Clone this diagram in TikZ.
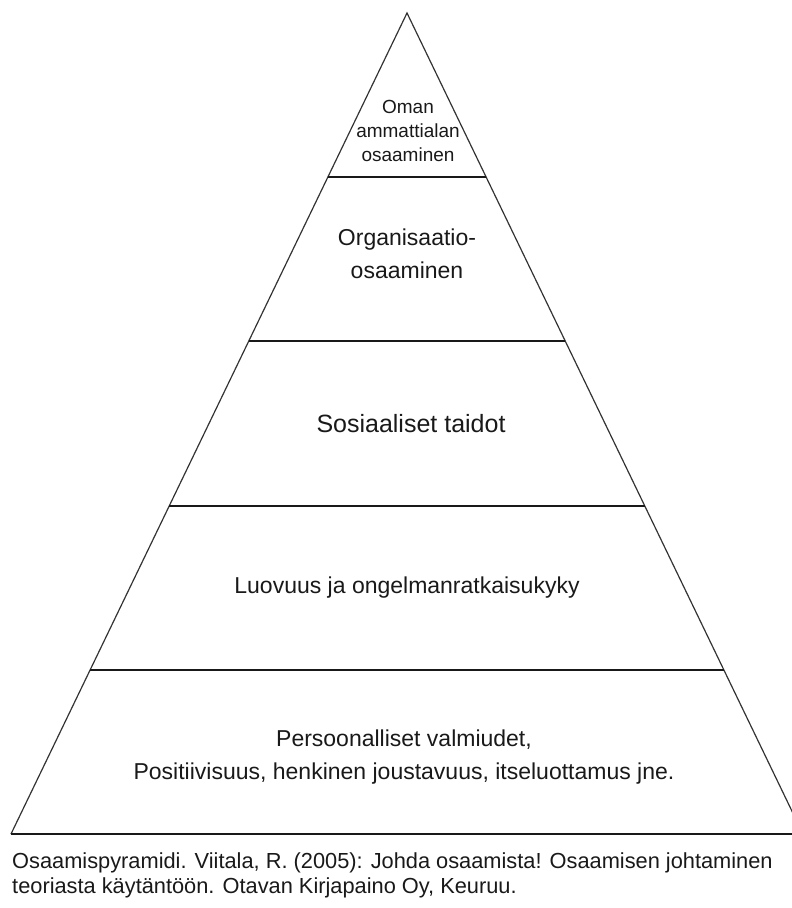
\documentclass[tikz,border=0pt]{standalone}
\usepackage{fontspec}
\setmainfont{Liberation Sans}
\usetikzlibrary{calc}

\begin{document}
\begin{tikzpicture}[
    x=1pt, y=1pt,
    side/.style={draw=black!80, line width=1.2pt},
    band/.style={draw=black!90, line width=2pt},
    lbl/.style={align=center, inner sep=0pt, text=black!90, font=\fontsize{23}{33}\selectfont},
    small/.style={align=center, inner sep=0pt, text=black!90, font=\fontsize{19}{24}\selectfont},
    caption/.style={align=left, inner sep=0pt, text=black!90, font=\fontsize{21.8}{25}\selectfont}
]
    \useasboundingbox (0,0) rectangle (792,-908);
    \clip (0,0) rectangle (792,-908);

    % Pyramid outline
    \coordinate (apex) at (407,-13);
    \coordinate (bl) at (11,-834);
    \coordinate (br) at (803,-834);
    \draw[side] (bl) -- (apex) -- (br);
    \draw[band] (bl) -- (br);

    % Levels
    \foreach \t in {0.2,0.4,0.6,0.8}
        \draw[band] ($(apex)!\t!(bl)$) -- ($(apex)!\t!(br)$);

    % Labels, top to bottom
    \node[small] (own) at (408,-131) {Oman\\ammattialan\\osaaminen};
    \node[lbl] (org) at (407,-254) {Organisaatio-\\osaaminen};
    \node[lbl, font=\fontsize{25}{33}\selectfont] (soc) at (411,-424) {Sosiaaliset taidot};
    \node[lbl] (cre) at (407,-588) {Luovuus ja ongelmanratkaisukyky};
    \node[lbl] (pers) at (404,-757) {Persoonalliset valmiudet,\\Positiivisuus, henkinen joustavuus, itseluottamus jne.};

    % Source
    \node[caption, anchor=west] (src) at (12,-875) {Osaamispyramidi. Viitala, R. (2005): Johda osaamista! Osaamisen johtaminen\\teoriasta käytäntöön. Otavan Kirjapaino Oy, Keuruu.};
\end{tikzpicture}
\end{document}
